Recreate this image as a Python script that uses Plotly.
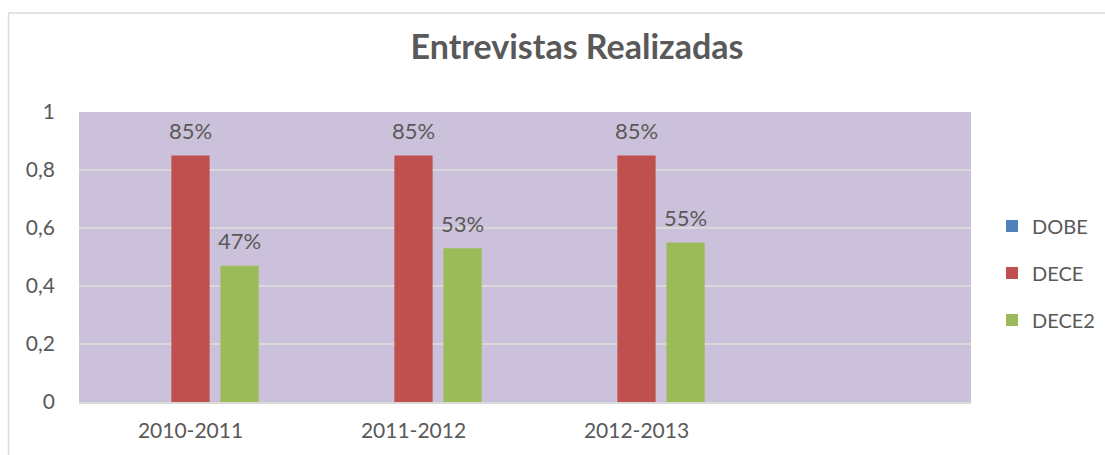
import plotly.graph_objects as go

categories = ["2010-2011", "2011-2012", "2012-2013", " "]
series_names = ["DOBE", "DECE", "DECE2"]
dobe = [None, None, None]
dece = [0.85, 0.85, 0.85]
dece2 = [0.47, 0.53, 0.55]
colors = ["#4F81BD", "#C0504D", "#9BBB59"]
y_ticks = [0, 0.2, 0.4, 0.6, 0.8, 1]

FONT = "Lato, 'Open Sans', sans-serif"
TXT = "#595959"

fig = go.Figure()
for i, (name, vals) in enumerate(zip(series_names, [dobe, dece, dece2])):
    fig.add_trace(go.Bar(
        name=name, x=categories[:3], y=vals, marker_color=colors[i],
        marker_line_width=0, legendgroup=name,
    ))

# data labels
bargap = 0.34
groupgap = 0.22
slot = (1 - bargap) / 3  # in category units
for i, vals in enumerate([dobe, dece, dece2]):
    offset = (i - 1) * slot
    for c, v in zip(categories, vals):
        if v is None:
            continue
        fig.add_annotation(
            x=c, y=v, xref="x", yref="y", text=f"{round(v*100)}%",
            showarrow=False, yanchor="middle", yshift=25,
            xshift=offset * 223,
            font=dict(size=22, color=TXT, family=FONT),
        )

# outer chart frame (partially visible)
fx = (8.5 - 79) / 892
fy = (402 - 13) / 290
fig.add_shape(type="line", xref="paper", yref="paper",
              x0=fx, x1=fx, y0=fy, y1=-0.3,
              line=dict(color="#D9D9D9", width=1.5))
fig.add_shape(type="line", xref="paper", yref="paper",
              x0=fx, x1=1.2, y0=fy, y1=fy,
              line=dict(color="#D9D9D9", width=1.5))

fig.update_layout(
    width=1105, height=455,
    margin=dict(l=79, r=134, t=112, b=53, autoexpand=False),
    paper_bgcolor="white", plot_bgcolor="#CCC1DA",
    separators=", ",
    barmode="group", bargap=bargap, bargroupgap=groupgap,
    font=dict(family=FONT, color=TXT, size=21),
    title=dict(text="<b>Entrevistas Realizadas</b>", x=577 / 1105, xanchor="center",
               y=1 - 47 / 455, yanchor="middle",
               font=dict(size=34, color=TXT, family=FONT)),
    xaxis=dict(type="category", categoryorder="array", categoryarray=categories,
               range=[-0.5, 3.5], showgrid=False, showline=True,
               linecolor="#D9D9D9", linewidth=1.5, ticks="", ticklabelstandoff=9,
               tickfont=dict(size=21, color=TXT)),
    yaxis=dict(range=[0, 1], tickvals=y_ticks, showgrid=True, gridcolor="#D9D9D9",
               gridwidth=1.5, zeroline=False, showline=False, ticks="",
               ticklabelstandoff=23, tickfont=dict(size=21, color=TXT)),
    legend=dict(x=(992 - 79) / 892, xanchor="left", y=(402 - 273) / 290, yanchor="middle",
                traceorder="grouped", tracegroupgap=18,
                font=dict(size=20, color=TXT, family=FONT), bgcolor="rgba(0,0,0,0)"),
)

fig.write_html("out.html", config={"displayModeBar": False},
               post_script="document.body.style.margin='0';")
